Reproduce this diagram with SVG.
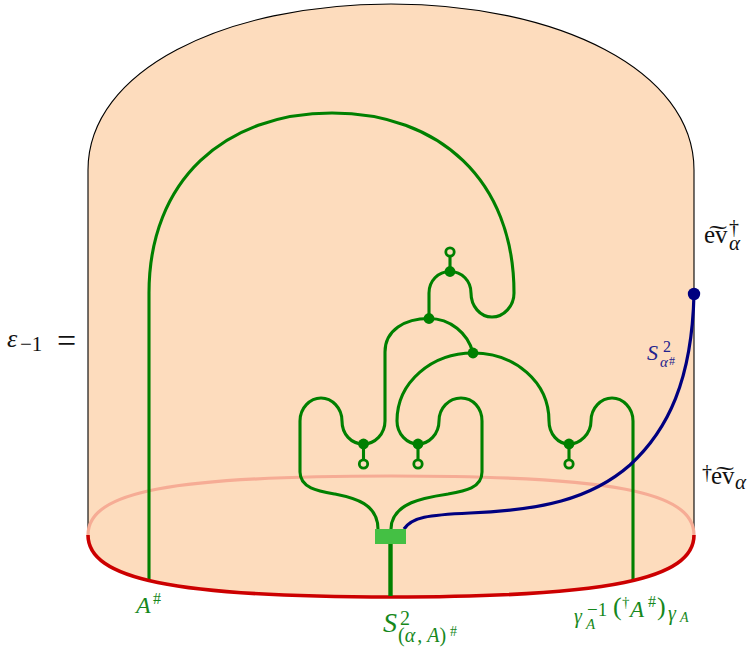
<svg xmlns="http://www.w3.org/2000/svg" width="749" height="649" viewBox="0 0 749 649">
<style>
.g{fill:none;stroke:#008000;stroke-width:3.1}
.d{fill:#008000}
.r{fill:#fddcbd;stroke:#008000;stroke-width:2.8}
text{font-family:"Liberation Serif","Times New Roman",serif}
.i{font-style:italic}
.lg{fill:#16881c}
.lb{fill:#23238e}
.k{fill:#111}
</style>
<g id="surface">
<path d="M88 535V170C88 70 225 4 391 4S694 70 694 170V535C694 579 609 597 391 597S88 579 88 535Z" fill="#fddcbd"/>
<path d="M88 535V170C88 70 225 4 391 4S694 70 694 170V535" fill="none" stroke="#000" stroke-width="1.1"/>
<path d="M88 535C88 491 173 476 391 476S694 491 694 535" fill="none" stroke="#f6ac95" stroke-width="3.2"/>
</g>
<g id="connectors">
<path class="g" d="M149 580V293C149 180 225 113 332 113S514 180 514 293C514 306 504 317 492 317S471 306 471 293C471 281 462 271.500 450 271.500S429 281 429 293V318.500"/>
<path class="g" d="M450 256V271.500"/>
<path class="g" d="M473 353C468 333 450 318.500 429 318.500C405 318.500 385 330 385 352V421C385 434 375 444 363.500 444C351 444 342 434 342 421C342 408 332 398 321 398S300 408 300 421V472C300 488 318 491 335 494C355 498 378 504 378 529"/>
<path class="g" d="M363.500 444V459"/>
<path class="g" d="M549 421C549 382 515 353 473 353C432 353 397 382 397 421C397 434 407 444 418 444S439 434 439 421C439 408 449 398 461 398S482 408 482 421V472C482 488 465 491 448 494C428 497 391 502 391 529"/>
<path class="g" d="M418 444V459"/>
<path class="g" d="M549 421C549 434 558 444 569 444S591 434 591 421C591 408 601 398 612 398S633 408 633 421V580"/>
<path class="g" d="M569 444V459"/>
<path d="M404 529C412 517 428 515 470 513C540 510 590 500 630 465C668 430 692 380 694 294" fill="none" stroke="#000080" stroke-width="3.2"/>
<path d="M88 535C88 579 173 597 391 597S694 579 694 535" fill="none" stroke="#cc0000" stroke-width="3.600"/>
<path d="M390.500 544V596" fill="none" stroke="#008000" stroke-width="4.400"/>
</g>
<g id="coupon"><rect x="375" y="529" width="31" height="15" fill="#44c044"/></g>
<g id="dot-top"><circle class="d" cx="450" cy="271.500" r="5.400"/><circle class="r" cx="450" cy="252" r="4.200"/></g>
<g id="dot-mid"><circle class="d" cx="429" cy="318.500" r="5.400"/></g>
<g id="dot-right"><circle class="d" cx="473" cy="353" r="5.400"/></g>
<g id="cap-1"><circle class="d" cx="363.500" cy="444" r="5.400"/><circle class="r" cx="363.500" cy="464" r="4.200"/></g>
<g id="cap-2"><circle class="d" cx="418" cy="444" r="5.400"/><circle class="r" cx="418" cy="464" r="4.200"/></g>
<g id="cap-3"><circle class="d" cx="569" cy="444" r="5.400"/><circle class="r" cx="569" cy="464" r="4.200"/></g>
<g id="blue-dot"><circle cx="694" cy="294" r="6.200" fill="#000080"/></g>
<g id="labels">
<text class="i k" x="7" y="347" font-size="26">ε</text>
<text class="k" x="20" y="351" font-size="21">−1</text>
<text class="k" x="57" y="352" font-size="34">=</text>

<text class="k" x="704" y="243" font-size="25">e͠v</text>
<text class="k" x="729" y="234" font-size="20">†</text>
<text class="i k" x="729" y="250" font-size="21">α</text>

<text class="k" x="702" y="479" font-size="20">†</text>
<text class="k" x="711" y="484" font-size="25">e͠v</text>
<text class="i k" x="735" y="489" font-size="21">α</text>

<text class="i lb" x="647" y="360" font-size="22">S</text>
<text class="lb" x="663" y="352" font-size="16">2</text>
<text class="i lb" x="660" y="367" font-size="15">α</text>
<text class="lb" x="669" y="365" font-size="12">#</text>

<text class="i lg" x="136" y="613" font-size="24">A</text>
<text class="lg" x="153" y="604" font-size="16">#</text>

<text class="i lg" x="383" y="632" font-size="28">S</text>
<text class="lg" x="400" y="625" font-size="20">2</text>
<text class="lg" x="398" y="642" font-size="20">(<tspan class="i">α</tspan><tspan dx="2">,</tspan><tspan dx="5" class="i">A</tspan>)</text>
<text class="lg" x="450" y="636" font-size="14">#</text>

<text class="i lg" x="574" y="623" font-size="20">γ</text>
<text class="lg" x="587" y="616" font-size="19">−1</text>
<text class="i lg" x="586" y="629" font-size="15">A</text>
<text class="lg" x="613" y="615" font-size="26">(</text>
<text class="lg" x="622" y="607" font-size="15">†</text>
<text class="i lg" x="630" y="617" font-size="23">A</text>
<text class="lg" x="648" y="607" font-size="16">#</text>
<text class="lg" x="657" y="615" font-size="26">)</text>
<text class="i lg" x="668" y="620" font-size="20">γ</text>
<text class="i lg" x="680" y="622" font-size="14">A</text>
</g>
</svg>
